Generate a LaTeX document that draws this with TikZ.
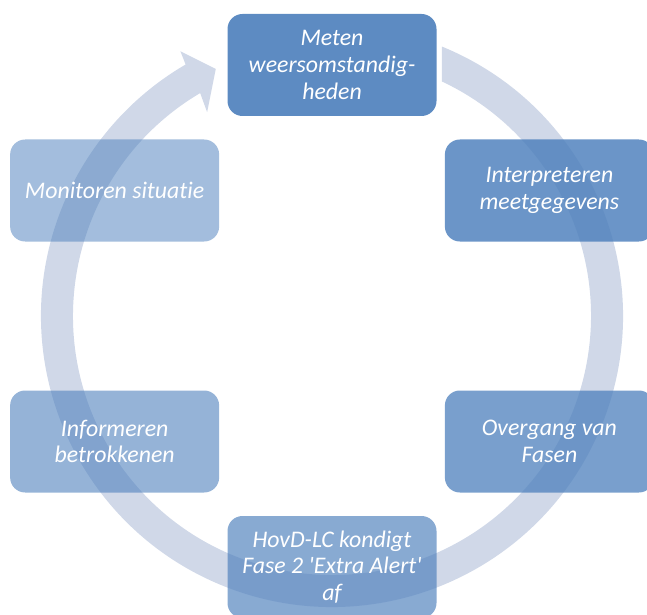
\documentclass[tikz,border=0pt]{standalone}
\usepackage{fontspec}
\setmainfont{Carlito}[Ligatures={NoCommon}]
\definecolor{accent}{HTML}{4F81BD}
\definecolor{ringc}{HTML}{D0D8E8}
\tikzset{
  x=1pt, y=1pt,
  phase/.style={rounded corners=15pt, fill=accent, minimum width=209pt, minimum height=102pt,
    inner sep=0pt, align=center, text=white,
    font=\fontsize{23.8}{26.8}\selectfont\itshape},
}
\begin{document}
\begin{tikzpicture}
\useasboundingbox (0,0) rectangle (647,614);
\clip (0,0) rectangle (647,614);
\coordinate (O) at (332,298);
% ring arrow
\fill[ringc] ([shift={(67.79:291)}]O)
  arc[start angle=67.79, end angle=-239.8, radius=291]
  -- ([shift={(119.8:305)}]O)
  -- ([shift={(115.2:273)}]O)
  -- ([shift={(121.5:239)}]O)
  -- ([shift={(120.6:259)}]O)
  arc[start angle=-239.4, end angle=64.87, radius=259]
  -- cycle;
% boxes
\node[phase, fill opacity=0.92, text opacity=1] (meten) at ([shift={(90:251)}]O) {Meten\\weersomstandig-\\heden};
\node[phase, fill opacity=0.84, text opacity=1] (interp) at ([shift={(30:251)}]O) {Interpreteren\\meetgegevens};
\node[phase, fill opacity=0.76, text opacity=1] (overgang) at ([shift={(-30:251)}]O) {Overgang van\\Fasen};
\node[phase, fill opacity=0.68, text opacity=1] (hovd) at ([shift={(-90:251)}]O) {HovD-LC kondigt\\Fase 2 \textquotesingle Extra Alert\textquotesingle\\af};
\node[phase, fill opacity=0.60, text opacity=1] (inform) at ([shift={(-150:251)}]O) {Informeren\\betrokkenen};
\node[phase, fill opacity=0.52, text opacity=1] (monitor) at ([shift={(150:251)}]O) {Monitoren situatie};
\end{tikzpicture}
\end{document}
